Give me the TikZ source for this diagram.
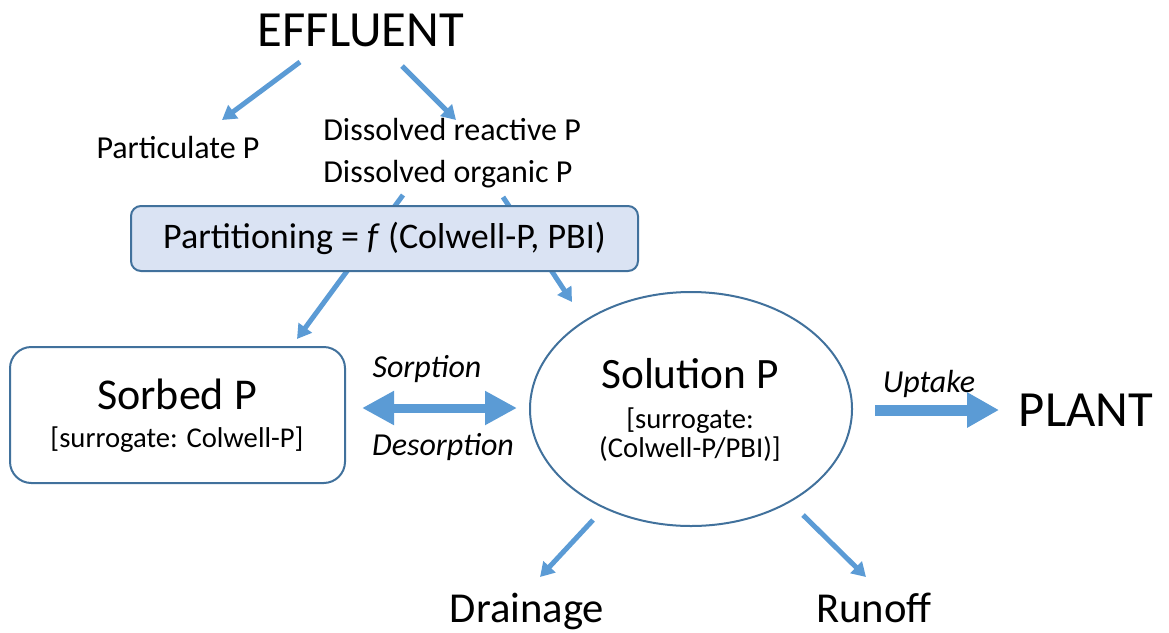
\documentclass[tikz,border=0pt]{standalone}
\usepackage{fontspec}
\setmainfont{Carlito}
\usetikzlibrary{arrows.meta,calc,shapes.geometric}
\definecolor{arrowblue}{HTML}{5B9BD5}
\definecolor{edgeblue}{HTML}{41719C}
\definecolor{boxfill}{HTML}{DAE3F3}
\tikzset{
  flow/.style={-{Triangle[width=12pt,length=10.5pt]}, line width=3.75pt, arrowblue},
  lbl/.style={inner sep=0pt, anchor=base},
}
\begin{document}
\begin{tikzpicture}[x=0.75pt, y=-0.75pt]
  \useasboundingbox (0,0) rectangle (1169,632);
  % Source and its fractions
  \node[lbl, font=\fontsize{38}{44}\selectfont] (eff) at (361,46) {EFFLUENT};
  \node[lbl, font=\fontsize{24}{29}\selectfont] (partp) at (178,158) {Particulate P};
  \node[lbl, anchor=base west, font=\fontsize{24}{29}\selectfont] (dis1) at (323,140) {Dissolved reactive P};
  \node[lbl, anchor=base west, font=\fontsize{24}{29}\selectfont] (dis2) at (323,182) {Dissolved organic P};
  \draw[flow] ($(eff.base)+(-61,16)$) -- ($(partp.base)+(44,-38)$);
  \draw[flow] ($(eff.base)+(41,20)$) -- ($(dis1.base west)+(133,-20)$);
  % Soil pools
  \node[draw=edgeblue, line width=1.5pt, rounded corners=16pt,
    minimum width=251.25pt, minimum height=102pt] (sorb) at (177.5,415) {};
  \node[lbl, font=\fontsize{33}{39}\selectfont] (sorbt) at (177,409) {Sorbed P};
  \node[lbl, font=\fontsize{21.5}{26}\selectfont] (sorbs) at (177,447) {[surrogate: Colwell-P]};
  \node[draw=edgeblue, line width=1.5pt, ellipse, inner sep=0pt,
    minimum width=241.5pt, minimum height=175.5pt] (sol) at (691,409) {};
  \node[lbl, font=\fontsize{32.5}{39}\selectfont] (solt) at (690,388) {Solution P};
  \node[lbl, font=\fontsize{21.5}{26}\selectfont] (sols1) at (690,428) {[surrogate:};
  \node[lbl, font=\fontsize{21.5}{26}\selectfont] (sols2) at (690,457) {(Colwell-P/PBI)]};
  % Dissolved P split (runs under the box)
  \draw[flow] ($(dis2.base west)+(80,13)$) -- ($(sorb.north)+(119.5,-7)$);
  \draw[flow] ($(dis2.base west)+(180,15)$) -- ($(sol.center)+(-119,-107)$);
  \node[draw=edgeblue, fill=boxfill, line width=1.5pt, rounded corners=7.5pt,
    minimum width=380.25pt, minimum height=48.75pt,
    font=\fontsize{27}{32}\selectfont] (part) at (384.5,238.5)
    {Partitioning = \textit{f} (Colwell-P, PBI)};
  % Exchange between pools
  \node[lbl, font=\itshape\fontsize{24}{29}\selectfont] (sorp) at (427,377) {Sorption};
  \node[lbl, font=\itshape\fontsize{24}{29}\selectfont] (desorp) at (443,455) {Desorption};
  \draw[line width=6.75pt, arrowblue,
    {Triangle[width=24pt,length=24pt]}-{Triangle[width=24pt,length=24pt]}]
    ($(sorb.east)+(16,-7)$) -- ($(sol.west)+(-12,-1)$);
  % Plant uptake
  \node[lbl, font=\fontsize{38}{44}\selectfont] (plant) at (1086,426) {PLANT};
  \node[lbl, font=\itshape\fontsize{24}{29}\selectfont] (upt) at (929,392) {Uptake};
  \draw[line width=8.25pt, arrowblue, -{Triangle[width=25pt,length=24pt]}]
    ($(sol.east)+(22,1)$) -- ($(plant.base)+(-87,-16)$);
  % Losses
  \node[lbl, font=\fontsize{32}{38}\selectfont] (drain) at (527,622) {Drainage};
  \node[lbl, font=\fontsize{32}{38}\selectfont] (runoff) at (874,622) {Runoff};
  \draw[flow] ($(sol.center)+(-98,111)$) -- ($(drain.base)+(13,-45)$);
  \draw[flow] ($(sol.center)+(112,106)$) -- ($(runoff.base)+(-8,-45)$);
\end{tikzpicture}
\end{document}
